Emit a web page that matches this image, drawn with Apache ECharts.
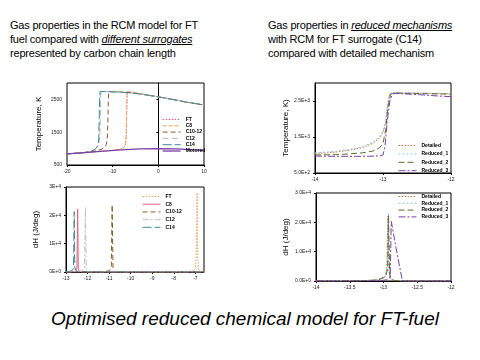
<!DOCTYPE html>
<html><head><meta charset="utf-8">
<script src="https://cdn.jsdelivr.net/npm/echarts@6/dist/echarts.min.js"></script>
<style>
html,body{margin:0;padding:0;background:#fff;width:480px;height:360px;overflow:hidden;font-family:"Liberation Sans",Arial,sans-serif}
.ch{position:absolute;left:0;top:0;width:480px;height:360px}
.t{position:absolute;font-size:11px;line-height:14px;color:#000;white-space:nowrap;letter-spacing:-0.2px}
.t i{text-decoration:underline}
#cap{position:absolute;left:0;width:490px;top:308px;text-align:center;font-style:italic;font-size:19px;color:#000}
</style></head>
<body>
<div class="t" style="left:10px;top:18px">Gas properties in the RCM model for FT<br>fuel compared with <i>different surrogates</i><br>represented by carbon chain length</div>
<div class="t" style="left:268px;top:18px">Gas properties in <i>reduced mechanisms</i><br>with RCM for FT surrogate (C14)<br>compared with detailed mechanism</div>
<div id="cap">Optimised reduced chemical model for FT-fuel</div>
<div id="c1" class="ch"></div>
<div id="c2" class="ch"></div>
<div id="c3" class="ch"></div>
<div id="c4" class="ch"></div>
<script>
// ---- Chart 1: temperature vs crank angle, surrogates ----
const t1Names = ['FT','C8','C10-12','C12','C14','Motored'];
const t1XTicks = [-20,-10,0,10];
const t1YTicks = [500,1500,2500];
const t1FT = [[-20,840],[-15,895],[-10,945],[-8.5,975],[-7.6,1025],[-7.2,1110],[-7.0,1450],[-6.9,2250],[-6.8,2745],[-5,2700],[-2,2630],[0,2580],[3,2505],[6,2420],[10,2330]];
const t1C8 = [[-20,840],[-15,895],[-10,945],[-8.5,978],[-7.6,1030],[-7.25,1120],[-7.05,1400],[-6.95,2200],[-6.85,2740],[-5,2700],[-2,2630],[0,2580],[3,2505],[6,2420],[10,2330]];
const t1C1012 = [[-20,840],[-16,885],[-14,925],[-12.5,975],[-11.8,1035],[-11.4,1120],[-11.2,1260],[-11.05,1800],[-10.95,2500],[-10.85,2735],[-9,2730],[-7,2715],[-5,2685],[-2,2625],[0,2578],[3,2503],[6,2420],[10,2330]];
const t1C12 = [[-20,840],[-17,868],[-15,912],[-14,975],[-13.4,1060],[-13.0,1170],[-12.8,1350],[-12.7,2000],[-12.6,2650],[-12.5,2740],[-11,2738],[-8,2720],[-5,2683],[-2,2622],[0,2576],[3,2502],[6,2420],[10,2330]];
const t1C14 = [[-20,840],[-17,865],[-15,905],[-14,960],[-13.5,1030],[-13.2,1130],[-13.05,1300],[-12.95,1900],[-12.85,2600],[-12.75,2740],[-11,2738],[-8,2720],[-5,2682],[-2,2620],[0,2575],[3,2500],[6,2420],[10,2330]];
const t1Motored = [[-20,840],[-16,880],[-12,925],[-8,960],[-4,990],[0,1000],[4,990],[7,970],[10,945]];

// ---- Chart 2: dH vs crank angle, surrogates ----
const h2Names = ['FT','C8','C10-12','C12','C14'];
const h2XTicks = [-13,-12,-11,-10,-9,-8,-7];
const h2YTicks = [0,10000,20000,30000];
const h2FT = [[-13,0],[-7.6,0],[-7.3,150],[-7.1,400],[-7.0,1200],[-6.95,8000],[-6.92,28000],[-6.89,6000],[-6.85,500],[-6.8,0],[-6.6,0]];
const h2C8 = [[-13,0],[-12.7,80],[-12.55,300],[-12.49,1500],[-12.46,22200],[-12.43,1200],[-12.38,100],[-12.2,0],[-6.6,0]];
const h2C1012 = [[-13,0],[-11.6,50],[-11.2,200],[-11.0,400],[-10.9,1500],[-10.86,23700],[-10.82,1500],[-10.75,100],[-10.6,0],[-6.6,0]];
const h2C12 = [[-13,0],[-12.5,100],[-12.25,400],[-12.14,1500],[-12.1,22700],[-12.06,1200],[-12.0,100],[-11.8,0],[-6.6,0]];
const h2C14 = [[-13,0],[-12.85,200],[-12.7,600],[-12.65,1400],[-12.62,21300],[-12.59,1500],[-12.55,700],[-12.45,0],[-6.6,0]];

// ---- Chart 3: temperature, reduced mechanisms ----
const t3Names = ['Detailed','Reduced_1','Reduced_2','Reduced_3'];
const t3XTicks = [-14,-13,-12];
const t3YTicks = [500,1500,2500];
const t3Detailed = [[-14,1040],[-13.7,1080],[-13.5,1130],[-13.3,1210],[-13.15,1320],[-13.05,1480],[-13.0,1620],[-12.96,1900],[-12.93,2400],[-12.9,2700],[-12.85,2730],[-12.6,2720],[-12.3,2710],[-12,2700]];
const t3Reduced1 = [[-14,1060],[-13.7,1100],[-13.5,1150],[-13.3,1230],[-13.15,1350],[-13.05,1520],[-13.0,1660],[-12.96,1950],[-12.93,2450],[-12.9,2710],[-12.85,2740],[-12.6,2730],[-12.3,2715],[-12,2705]];
const t3Reduced2 = [[-14,1000],[-13.7,1010],[-13.5,1030],[-13.3,1060],[-13.15,1110],[-13.05,1200],[-13.0,1320],[-12.96,1700],[-12.93,2300],[-12.89,2680],[-12.85,2720],[-12.6,2710],[-12.3,2700],[-12,2690]];
const t3Reduced3 = [[-14,970],[-13.7,965],[-13.4,962],[-13.2,965],[-13.05,975],[-13.0,1000],[-12.97,1250],[-12.94,1900],[-12.9,2500],[-12.86,2700],[-12.8,2710],[-12.5,2680],[-12.2,2640],[-12,2620]];

// ---- Chart 4: dH, reduced mechanisms ----
const h4Names = ['Detailed','Reduced_1','Reduced_2','Reduced_3'];
const h4XTicks = [-14,-13.5,-13,-12.5,-12];
const h4YTicks = [0,10000,20000,30000];
const h4Detailed = [[-14,0],[-13.6,40],[-13.3,120],[-13.15,300],[-13.05,700],[-12.98,1500],[-12.95,4000],[-12.935,22000],[-12.92,3000],[-12.9,800],[-12.85,200],[-12.7,0],[-12,0]];
const h4Reduced1 = [[-14,0],[-13.6,50],[-13.3,140],[-13.15,330],[-13.05,750],[-12.98,1600],[-12.95,4500],[-12.93,23000],[-12.915,3000],[-12.9,800],[-12.85,200],[-12.7,0],[-12,0]];
const h4Reduced2 = [[-14,0],[-13.6,30],[-13.3,100],[-13.15,250],[-13.05,600],[-12.97,1400],[-12.94,4000],[-12.925,22500],[-12.91,2800],[-12.89,700],[-12.84,150],[-12.7,0],[-12,0]];
const h4Reduced3 = [[-14,0],[-13.3,20],[-13.05,100],[-12.95,400],[-12.9,1500],[-12.885,20300],[-12.8,9500],[-12.72,0],[-12,0]];

const FONT = '"Liberation Sans", Arial, sans-serif';
function axisCommon(ticks, fmt, min, max, margin) {
  return {
    type: 'value', min: min, max: max,
    axisLine: { show: true, lineStyle: { color: '#000', width: 1 } },
    axisTick: { show: true, length: 2, inside: false, customValues: ticks, lineStyle: { color: '#000' } },
    axisLabel: { customValues: ticks, formatter: fmt, fontSize: 5, color: '#222', fontFamily: FONT, margin: margin },
    splitLine: { show: false }
  };
}
function mk(id, grid, xa, ya, yName, nameGap, legend, series) {
  const c = echarts.init(document.getElementById(id), null, { renderer: 'canvas' });
  ya.name = yName; ya.nameLocation = 'middle'; ya.nameGap = nameGap;
  ya.nameTextStyle = { fontSize: 8, color: '#000', fontFamily: FONT };
  legend.data = series.map(s => ({ name: s[0], itemStyle: { opacity: 0 },
    lineStyle: { color: s[2], width: s[4] || 1, type: s[3], opacity: 1 } }));
  c.setOption({
    animation: false,
    grid: Object.assign({ show: true, borderColor: '#000', borderWidth: 1, backgroundColor: 'transparent', containLabel: false }, grid),
    xAxis: xa, yAxis: ya,
    legend: Object.assign({ orient: 'vertical', itemWidth: 18, itemHeight: 4,
      textStyle: { fontSize: 5, color: '#000', fontFamily: FONT, fontWeight: 'bold' }, padding: 0 }, legend),
    series: series.map(s => ({ type: 'line', name: s[0], data: s[1], showSymbol: false, symbol: 'none', smooth: false,
      lineStyle: { color: s[2], width: s[4] || 1, type: s[3] }, itemStyle: { color: s[2] } }))
  });
}
const plain = v => String(v);
const exp0 = v => v.toExponential(0).toUpperCase();
const exp1 = v => v.toExponential(1).toUpperCase();

mk('c1', { left: 67, top: 83, width: 137, height: 82 },
  axisCommon(t1XTicks, plain, -20, 10, 4), axisCommon(t1YTicks, plain, 500, 3000, 5),
  'Temperature, K', 24,
  { left: 162, top: 117, itemGap: 1.3 },
  [[t1Names[0], t1FT, '#e8607a', [1.5,1.5]],
   [t1Names[1], t1C8, '#f0a060', [4,2]],
   [t1Names[2], t1C1012, '#8b5a2b', [5,3]],
   [t1Names[3], t1C12, '#b8b8b8', [6,3]],
   [t1Names[4], t1C14, '#3d8a96', [9,3]],
   [t1Names[5], t1Motored, '#7a3fa8', 'solid', 1.3]]);

mk('c2', { left: 66, top: 187, width: 138, height: 85 },
  axisCommon(h2XTicks, plain, -13, -6.6, 4), axisCommon(h2YTicks, exp0, 0, 30000, 5),
  'dH (J/deg)', 26,
  { left: 142, top: 194, itemGap: 2.7 },
  [[h2Names[0], h2FT, '#f0a060', [1.5,1.5]],
   [h2Names[1], h2C8, '#e8607a', 'solid'],
   [h2Names[2], h2C1012, '#8b5a2b', [5,3]],
   [h2Names[3], h2C12, '#c0c0c8', [6,2,2,2]],
   [h2Names[4], h2C14, '#3d8a96', [9,3]]]);

mk('c3', { left: 315, top: 83, width: 136, height: 90 },
  axisCommon(t3XTicks, plain, -14, -12, 4), axisCommon(t3YTicks, exp1, 500, 3000, 5),
  'Temperature, K)', 25,
  { left: 398, top: 143, itemGap: 3.4 },
  [[t3Names[0], t3Detailed, '#d0703c', [1.5,1.5]],
   [t3Names[1], t3Reduced1, '#8cc8dc', [2,2]],
   [t3Names[2], t3Reduced2, '#5a6b30', [6,3]],
   [t3Names[3], t3Reduced3, '#7a3fa8', [7,2,2,2]]]);

mk('c4', { left: 316, top: 193, width: 135, height: 88 },
  axisCommon(h4XTicks, plain, -14, -12, 4), axisCommon(h4YTicks, exp1, 0, 30000, 5),
  'dH (J/deg)', 26,
  { left: 398, top: 194, itemGap: 1.8 },
  [[h4Names[0], h4Detailed, '#d0703c', [1.5,1.5]],
   [h4Names[1], h4Reduced1, '#8cc8dc', [2,2]],
   [h4Names[2], h4Reduced2, '#5a6b30', [6,3]],
   [h4Names[3], h4Reduced3, '#7a3fa8', [7,2,2,2]]]);
</script>
</body></html>
